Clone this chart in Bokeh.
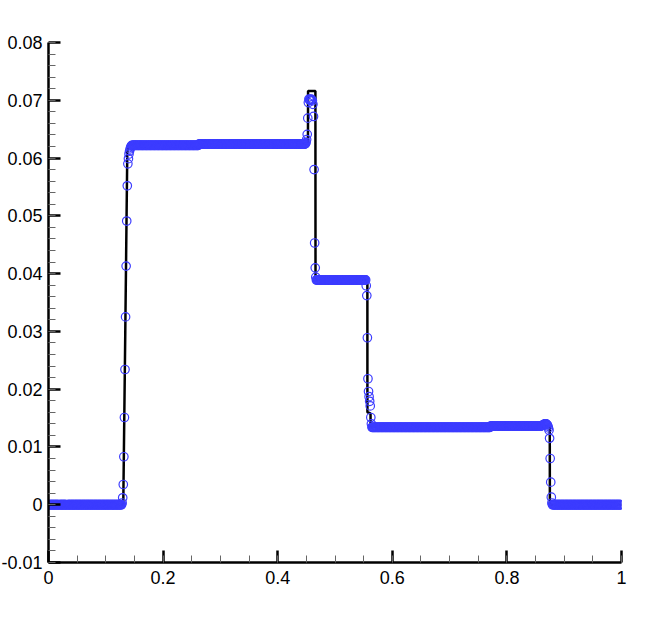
import numpy as np
from bokeh.plotting import figure
from bokeh.models import FixedTicker, Range1d, ColumnDataSource
from bokeh.embed import file_html
from bokeh.resources import INLINE

# ---- tick positions and labels ----
x_ticks = [0.0, 0.2, 0.4, 0.6, 0.8, 1.0]
x_tick_labels = ["0", "0.2", "0.4", "0.6", "0.8", "1"]
y_ticks = [-0.01, 0.0, 0.01, 0.02, 0.03, 0.04, 0.05, 0.06, 0.07, 0.08]
y_tick_labels = ["-0.01", "0", "0.01", "0.02", "0.03", "0.04", "0.05", "0.06", "0.07", "0.08"]

# ---- reference (exact) solution: black line ----
ref_x = [0.0, 0.1305, 0.1340, 0.1375, 0.1395, 0.1430, 0.4528, 0.4530, 0.4658, 0.4660,
         0.5565, 0.5566, 0.5620, 0.5621, 0.8748, 0.8750, 1.0]
ref_y = [0.0, 0.0, 0.0300, 0.0610, 0.0620, 0.0623, 0.0625, 0.0716, 0.0716, 0.0389,
         0.0389, 0.0160, 0.0158, 0.0135, 0.0136, 0.0, 0.0]

# ---- numerical solution: 1000 cell-centre values ----
n_cells = 1000
left_state = [0.0] * 128
rise_1 = [0.0003, 0.0012, 0.0035, 0.0083, 0.0151, 0.0234, 0.0325, 0.0413, 0.0491,
          0.0552, 0.0590, 0.0599, 0.0607, 0.0612, 0.0616, 0.0619, 0.0621]
plateau_1a = [0.0622] * 117
plateau_1b = [0.0624] * 186
peak = [0.0625, 0.0627, 0.0632, 0.0641, 0.0669, 0.0696, 0.0702, 0.0701, 0.0700, 0.0701,
        0.0702, 0.0701, 0.0699, 0.0693, 0.0672, 0.0580, 0.0453, 0.0410, 0.0394]
plateau_2 = [0.0389] * 87
drop_2 = [0.0379, 0.0362, 0.0289, 0.0218, 0.0196, 0.0187, 0.0179, 0.0171, 0.0151, 0.0140]
plateau_3a = [0.0134] * 207
plateau_3b = [0.0136] * 89
bump_3 = [0.0137, 0.0137, 0.0138, 0.0138, 0.0139, 0.0139, 0.0140, 0.0140, 0.0140,
          0.0139, 0.0138, 0.0136, 0.0133]
drop_3 = [0.0129, 0.0115, 0.0080, 0.0039, 0.0013, 0.0003]
right_state = [0.0] * 121

num_y = (left_state + rise_1 + plateau_1a + plateau_1b + peak + plateau_2 + drop_2
         + plateau_3a + plateau_3b + bump_3 + drop_3 + right_state)
num_x = ((np.arange(n_cells) + 0.5) / n_cells).tolist()

p = figure(frame_width=573, frame_height=520,
           x_range=Range1d(0, 1), y_range=Range1d(-0.01, 0.08),
           output_backend="svg", toolbar_location=None,
           min_border_top=42, min_border_right=15, min_border_bottom=10, min_border_left=0,
           styles={"margin-left": "-2px"})

p.line(ref_x, ref_y, line_color="black", line_width=2.5)
src = ColumnDataSource(dict(x=num_x, y=num_y))
p.scatter("x", "y", source=src, marker="circle", size=8.5, fill_color=None,
          line_color="#3c3cff", line_width=1.2)

p.xaxis.ticker = FixedTicker(ticks=x_ticks, minor_ticks=np.arange(0, 1.0001, 0.05).tolist())
p.yaxis.ticker = FixedTicker(ticks=y_ticks, minor_ticks=np.arange(-0.01, 0.0801, 0.002).tolist())
p.xaxis.major_label_overrides = dict(zip(x_ticks, x_tick_labels))
p.yaxis.major_label_overrides = dict(zip(y_ticks, y_tick_labels))

for ax in (p.xaxis[0], p.yaxis[0]):
    ax.axis_line_width = 2.5
    ax.axis_line_color = "black"
    ax.major_tick_in = 12
    ax.major_tick_out = 0
    ax.major_tick_line_width = 2.5
    ax.major_tick_line_color = "black"
    ax.minor_tick_in = 7
    ax.minor_tick_out = 0
    ax.minor_tick_line_width = 1
    ax.minor_tick_line_color = "#666666"
    ax.major_label_text_font = "Liberation Sans"
    ax.major_label_text_font_size = "18px"
    ax.major_label_text_color = "black"

p.yaxis.major_label_standoff = 6
p.xaxis.major_label_standoff = 8

p.grid.visible = False
p.outline_line_color = None
p.background_fill_color = "white"
p.border_fill_color = "white"

open("out.html", "w").write(file_html(p, INLINE))
